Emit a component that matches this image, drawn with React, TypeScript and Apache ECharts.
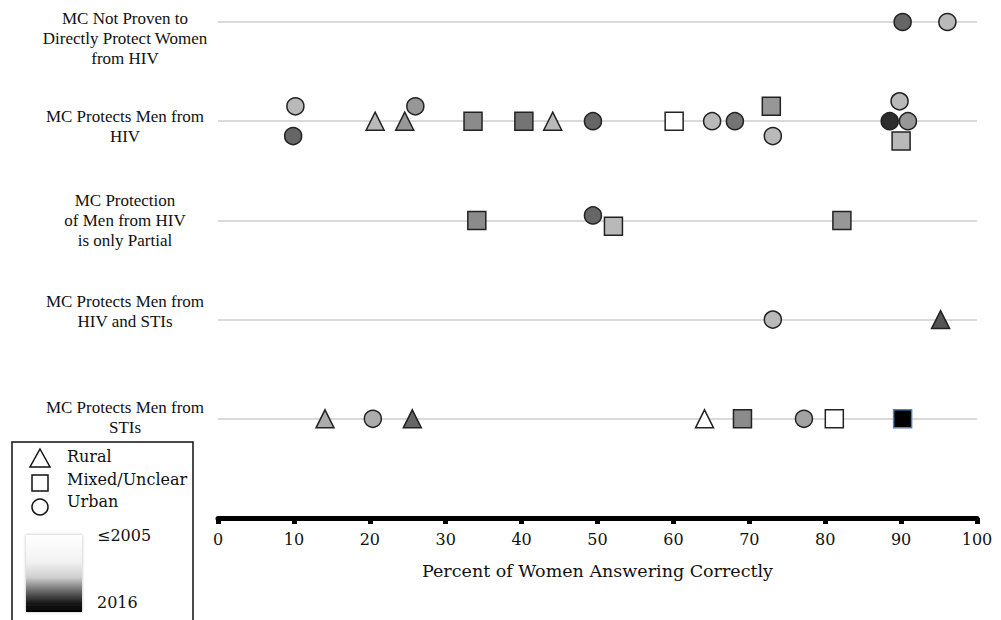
import React, { useEffect, useRef } from "react";
import * as echarts from "echarts";

const rowLabels = [
  "MC Not Proven to\nDirectly Protect Women\nfrom HIV",
  "MC Protects Men from\nHIV",
  "MC Protection\nof Men from HIV\nis only Partial",
  "MC Protects Men from\nHIV and STIs",
  "MC Protects Men from\nSTIs",
];
const rowValues = [5, 4, 3, 2, 1];
const xTickValues = [0, 10, 20, 30, 40, 50, 60, 70, 80, 90, 100];
const xAxisTitle = "Percent of Women Answering Correctly";
const settingLabels = ["Rural", "Mixed/Unclear", "Urban"];
const yearLabels = ["≤2005", "2016"];

// [percent correct, row index, vertical jitter (row units), study year]
const ruralPoints = [
  [20.7, 1, 0, 2008],
  [24.6, 1, 0, 2009.5],
  [44.1, 1, 0, 2008],
  [95.2, 3, 0, 2012.3],
  [14.1, 4, 0, 2008.6],
  [25.6, 4, 0, 2011.6],
  [64.1, 4, 0, 2005],
];
const mixedPoints = [
  [33.6, 1, 0, 2010],
  [40.3, 1, 0, 2011],
  [60.1, 1, 0, 2005],
  [72.9, 1, 0.15, 2009.5],
  [90.0, 1, -0.2, 2008],
  [34.1, 2, 0, 2010],
  [52.1, 2, -0.06, 2008],
  [82.2, 2, 0, 2009.5],
  [69.1, 4, 0, 2010],
  [81.2, 4, 0, 2005],
  [90.2, 4, 0, 2016],
];
const urbanPoints = [
  [90.2, 0, 0, 2011.6],
  [96.1, 0, 0, 2008],
  [10.2, 1, 0.15, 2008],
  [9.9, 1, -0.15, 2011.6],
  [26.0, 1, 0.15, 2009.5],
  [49.4, 1, 0, 2011.6],
  [65.1, 1, 0, 2008],
  [68.1, 1, 0, 2011],
  [73.1, 1, -0.15, 2008],
  [89.8, 1, 0.2, 2008],
  [88.5, 1, 0, 2014],
  [90.9, 1, 0, 2009.5],
  [49.4, 2, 0.05, 2011.6],
  [73.1, 3, 0, 2008],
  [20.4, 4, 0, 2008.6],
  [77.2, 4, 0, 2009],
];

const SERIF = "'DejaVu Serif', serif";
const TIMES = "'Liberation Serif', 'Times New Roman', serif";

function shade(year: number): string {
  const t = Math.min(1, Math.max(0, (year - 2005) / 11));
  const g = Math.round(255 * (1 - t));
  const h = g.toString(16).padStart(2, "0");
  return "#" + h + h + h;
}

function build(points: number[][]) {
  return points.map((p) => ({
    value: [p[0], rowValues[p[1]] + p[2]],
    itemStyle: {
      color: shade(p[3]),
      borderColor: p[3] >= 2016 ? "#4f81bd" : "#222222",
    },
  }));
}

export default function App() {
  const ref = useRef<HTMLDivElement>(null);
  useEffect(() => {
    if (!ref.current) return;
    const chart = echarts.init(ref.current, undefined, { renderer: "svg" });
    const common = {
      type: "scatter",
      itemStyle: { borderWidth: 1.5, opacity: 1 },
      emphasis: { disabled: true },
    };
    chart.setOption({
      animation: false,
      backgroundColor: "#ffffff",
      grid: { left: 218, right: 24, top: 22, bottom: 102 },
      xAxis: {
        type: "value",
        min: 0,
        max: 100,
        interval: 10,
        name: xAxisTitle,
        nameLocation: "middle",
        nameGap: 44,
        nameTextStyle: { fontFamily: SERIF, fontSize: 17.5, color: "#111" },
        axisLine: { show: true, lineStyle: { color: "#000", width: 5 } },
        axisTick: { show: true, length: 6, lineStyle: { color: "#000", width: 5 } },
        axisLabel: {
          fontFamily: SERIF,
          fontSize: 16,
          color: "#111",
          margin: 13,
          formatter: (v: number) => (xTickValues.includes(v) ? String(v) : ""),
        },
        splitLine: { show: false },
      },
      yAxis: {
        type: "value",
        min: 0,
        max: 5,
        interval: 1,
        axisLine: { show: false },
        axisTick: { show: false },
        axisLabel: { show: false },
        splitLine: { show: true, lineStyle: { color: "#dadada", width: 2 } },
      },
      series: [
        { ...common, name: settingLabels[0], symbol: "triangle", symbolSize: 18, data: build(ruralPoints) },
        { ...common, name: settingLabels[1], symbol: "rect", symbolSize: 18, data: build(mixedPoints) },
        { ...common, name: settingLabels[2], symbol: "circle", symbolSize: 17, data: build(urbanPoints) },
      ],
    });

    const shifts = [16, 5.5, 0, -8.5, -1];
    const labelEls = rowLabels.map((txt, i) => {
      const pt = chart.convertToPixel({ gridIndex: 0 }, [0, rowValues[i]]) as number[];
      return {
        type: "text",
        x: 125,
        y: pt[1] + shifts[i],
        style: {
          text: txt,
          fontFamily: TIMES,
          fontSize: 17,
          lineHeight: 20,
          fill: "#111",
          align: "center",
          verticalAlign: "middle",
        },
        silent: true,
      };
    });

    const legendText = (text: string, x: number, y: number) => ({
      type: "text",
      x,
      y,
      style: { text, fontFamily: SERIF, fontSize: 16, fill: "#111", verticalAlign: "middle" },
    });

    chart.setOption({
      graphic: [
        ...labelEls,
        {
          type: "rect",
          shape: { x: 12, y: 442, width: 181, height: 190 },
          style: { fill: "#fff", stroke: "#111", lineWidth: 1.5 },
        },
        {
          type: "polygon",
          shape: { points: [[40, 449], [50, 467], [30, 467]] },
          style: { fill: "#fff", stroke: "#111", lineWidth: 1.5 },
        },
        {
          type: "rect",
          shape: { x: 32, y: 475, width: 16, height: 16 },
          style: { fill: "#fff", stroke: "#111", lineWidth: 1.5 },
        },
        {
          type: "circle",
          shape: { cx: 40, cy: 507, r: 8 },
          style: { fill: "#fff", stroke: "#111", lineWidth: 1.5 },
        },
        legendText(settingLabels[0], 67, 456),
        legendText(settingLabels[1], 67, 479),
        legendText(settingLabels[2], 67, 501),
        {
          type: "rect",
          shape: { x: 26, y: 535, width: 56, height: 77 },
          style: {
            fill: new echarts.graphic.LinearGradient(0, 0, 0, 1, [
              { offset: 0, color: "#ffffff" },
              { offset: 0.35, color: "#f2f2f2" },
              { offset: 0.55, color: "#cfcfcf" },
              { offset: 0.72, color: "#6e6e6e" },
              { offset: 0.88, color: "#1a1a1a" },
              { offset: 1, color: "#000000" },
            ]),
            shadowBlur: 3,
            shadowColor: "rgba(0,0,0,0.3)",
          },
        },
        legendText(yearLabels[0], 97, 535),
        legendText(yearLabels[1], 97, 602),
      ],
    });

    return () => chart.dispose();
  }, []);
  return <div ref={ref} style={{ width: 1001, height: 620, position: "absolute", left: 0, top: 0 }} />;
}
